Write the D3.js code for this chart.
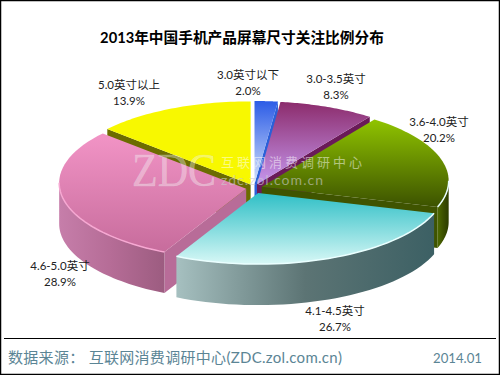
<!DOCTYPE html>
<html>
<head>
<meta charset="utf-8">
<script src="https://cdn.jsdelivr.net/npm/d3@7/dist/d3.min.js"></script>
<style>
  html, body { margin: 0; padding: 0; background: #fff; }
  svg { display: block; }
  text { font-family: "Lato", "Noto Sans CJK SC", sans-serif; }
</style>
</head>
<body>
<svg id="chart" width="500" height="375"></svg>
<script>
const categories = ['3.0英寸以下', '3.0-3.5英寸', '3.6-4.0英寸', '4.1-4.5英寸', '4.6-5.0英寸', '5.0英寸以上'];
const values = [2.0, 8.3, 20.2, 26.7, 28.9, 13.9];
const topColors = [['#2c5ce6', '#d4e2fb'], ['#8c2c6c', '#c596ee'], ['#90c400', '#3c5200'], ['#2fbfc6', '#d8f8f6'], ['#f294c6', '#c76c9c'], ['#f8f800', '#f8f800']];
const wallColors = [['#2a60d8', '#2a60d8', '#2a60d8'], ['#6a1a58', '#6a1a58', '#6a1a58'], ['#4e6a00', '#3c5000', '#2c3c00'], ['#a6c0c0', '#5c7474', '#3c6064'], ['#c67eaa', '#b56c96', '#9c5c80'], ['#6c6c00', '#6c6c00', '#6c6c00']];
const edgeColors = ['#2a60d8', '#6a1a58', '#3f5400', '#8fa8a8', '#b86c98', '#6c6c00'];
// label anchor points, one per category
const labelX = [248, 336, 439, 335, 60, 129];
const labelY = [79, 83, 126, 315, 270, 89];
const explodes = [8, 8, 8, 11, 8, 8];
const drawOrder = [5, 0, 1, 2, 4, 3];

const svg = d3.select('#chart');
const cx = 254, cy = 182, rx = 187, ry = 77, apexDrop = 6, depth = 41;

const pie = d3.pie().sort(null).value(d => d);
const slices = pie(values);

const defs = svg.append('defs');
const addGradient = (id, horizontal, colors) => {
  const g = defs.append('linearGradient').attr('id', id)
    .attr('x1', 0).attr('y1', 0)
    .attr('x2', horizontal ? 1 : 0).attr('y2', horizontal ? 0 : 1);
  colors.forEach((c, k) => {
    g.append('stop').attr('offset', (k / (colors.length - 1) * 100) + '%').attr('stop-color', c);
  });
};
topColors.forEach((c, i) => addGradient('top' + i, false, c));
wallColors.forEach((c, i) => addGradient('wall' + i, true, c));

const line = d3.line();
const pointsBetween = (a0, a1) => d3.range(0, 41).map(k => a0 + (a1 - a0) * k / 40);

// background and frame
svg.append('rect').attr('x', 0.5).attr('y', 0.5).attr('width', 499).attr('height', 374)
  .attr('fill', '#fff').attr('stroke', '#000').attr('stroke-width', 1.5);

const pieG = svg.append('g');

drawOrder.forEach(i => {
  const s = slices[i];
  const mid = (s.startAngle + s.endAngle) / 2;
  const ox = cx + explodes[i] * Math.sin(mid);
  const oy = cy - explodes[i] * Math.cos(mid) * 0.5;
  const rim = a => [ox + rx * Math.sin(a), oy - ry * Math.cos(a)];
  const apex = [ox, oy + apexDrop];
  const down = p => [p[0], p[1] + depth];
  const g = pieG.append('g');

  // radial side walls facing the viewer
  const edge = a => {
    const p = rim(a);
    g.append('path')
      .attr('d', line([apex, p, down(p), down(apex)]) + 'Z')
      .attr('fill', edgeColors[i]);
  };
  if (s.startAngle >= Math.PI) edge(s.startAngle);
  if (s.endAngle <= Math.PI) edge(s.endAngle);

  // outer wall, front half of the ellipse only
  const a0 = Math.max(s.startAngle, Math.PI / 2);
  const a1 = Math.min(s.endAngle, Math.PI * 1.5);
  if (a0 < a1) {
    const arc = pointsBetween(a0, a1).map(rim);
    g.append('path')
      .attr('d', line(arc.concat(arc.map(down).reverse())) + 'Z')
      .attr('fill', `url(#wall${i})`);
  }

  // top face
  g.append('path')
    .attr('d', line([apex].concat(pointsBetween(s.startAngle, s.endAngle).map(rim))) + 'Z')
    .attr('fill', `url(#top${i})`);

  // soft highlight along the front rim
  if (a0 < a1) {
    g.append('path')
      .attr('d', line(pointsBetween(a0, a1).map(rim)))
      .attr('fill', 'none')
      .attr('stroke', i === 4 ? '#f6a8d2' : '#eaffff')
      .attr('stroke-width', 1.5);
  }
});

// watermark
const mark = svg.append('g').attr('pointer-events', 'none');
mark.append('text').attr('x', 132).attr('y', 186)
  .style('font-family', '"Liberation Serif", serif').style('font-size', '47px')
  .attr('textLength', 84).attr('lengthAdjust', 'spacingAndGlyphs')
  .attr('fill', '#fff').attr('fill-opacity', 0.35).attr('stroke', '#ddd').attr('stroke-opacity', 0.45).attr('stroke-width', 0.6)
  .text('ZDC');
mark.append('text').attr('x', 221).attr('y', 167)
  .style('font-size', '13px').attr('textLength', 141).attr('lengthAdjust', 'spacing')
  .attr('fill', '#fff').attr('fill-opacity', 0.5)
  .text('互联网消费调研中心');
mark.append('text').attr('x', 221).attr('y', 185)
  .style('font-size', '14px').attr('textLength', 102).attr('lengthAdjust', 'spacing')
  .attr('fill', '#ccc').attr('fill-opacity', 0.6)
  .text('zdc.zol.com.cn');

// title
svg.append('text').attr('x', 242).attr('y', 43).attr('text-anchor', 'middle')
  .style('font-size', '14.7px').style('font-weight', 700).attr('fill', '#000')
  .text('2013年中国手机产品屏幕尺寸关注比例分布');

// slice labels
categories.forEach((c, i) => {
  svg.append('text').attr('x', labelX[i]).attr('y', labelY[i]).attr('text-anchor', 'middle')
    .style('font-size', '11.5px').attr('fill', '#222').text(c);
  svg.append('text').attr('x', labelX[i]).attr('y', labelY[i] + 16).attr('text-anchor', 'middle')
    .style('font-size', '11.5px').attr('fill', '#222').text(values[i].toFixed(1) + '%');
});

// footer
svg.append('line').attr('x1', 4).attr('x2', 496).attr('y1', 338.5).attr('y2', 338.5)
  .attr('stroke', '#000').attr('stroke-width', 1);
svg.append('text').attr('x', 8).attr('y', 363)
  .style('font-size', '15px').attr('fill', '#5b8595')
  .attr('textLength', 334).attr('lengthAdjust', 'spacing')
  .text('数据来源： 互联网消费调研中心(ZDC.zol.com.cn)');
svg.append('text').attr('x', 433).attr('y', 363)
  .style('font-size', '14px').attr('fill', '#5b8595')
  .attr('textLength', 49).attr('lengthAdjust', 'spacingAndGlyphs')
  .text('2014.01');
</script>
</body>
</html>
